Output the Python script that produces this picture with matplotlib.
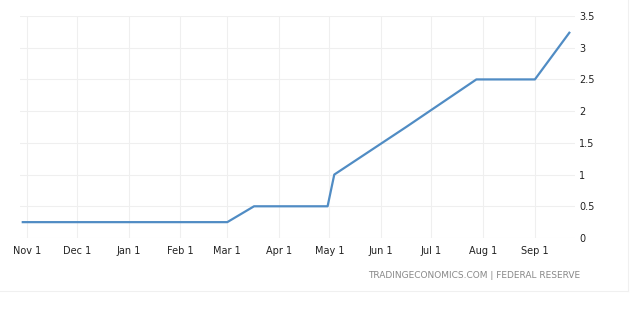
import matplotlib
matplotlib.use("Agg")
import matplotlib.pyplot as plt
import matplotlib.dates as mdates
import numpy as np
from datetime import datetime

# Fed funds rate (upper bound), points at the change dates
dates = ["2021-10-29", "2022-03-01", "2022-03-17", "2022-04-30", "2022-05-04",
         "2022-06-16", "2022-07-28", "2022-09-01", "2022-09-22"]
rates = [0.25, 0.25, 0.5, 0.5, 1.0, 1.75, 2.5, 2.5, 3.25]

tick_dates = ["2021-11-01", "2021-12-01", "2022-01-01", "2022-02-01", "2022-03-01",
              "2022-04-01", "2022-05-01", "2022-06-01", "2022-07-01", "2022-08-01",
              "2022-09-01"]
tick_labels = ["Nov 1", "Dec 1", "Jan 1", "Feb 1", "Mar 1", "Apr 1",
               "May 1", "Jun 1", "Jul 1", "Aug 1", "Sep 1"]
y_ticks = [0, 0.5, 1, 1.5, 2, 2.5, 3, 3.5]
y_labels = ["0", "0.5", "1", "1.5", "2", "2.5", "3", "3.5"]

x = [datetime.strptime(d, "%Y-%m-%d") for d in dates]
xt = [datetime.strptime(d, "%Y-%m-%d") for d in tick_dates]

fig = plt.figure(figsize=(6.4, 3.24), dpi=100)
ax = fig.add_axes([20 / 640, (324 - 238) / 324, 555 / 640, 222 / 324])

ax.plot(x, rates, color="#508cc4", lw=1.6, solid_capstyle="butt")

ax.set_xlim(datetime(2021, 10, 28), datetime(2022, 9, 25))
ax.set_ylim(0, 3.5)
ax.set_xticks(xt)
ax.set_xticklabels(tick_labels)
ax.set_yticks(y_ticks)
ax.set_yticklabels(y_labels)
ax.yaxis.tick_right()

ax.grid(True, color="#efefef", lw=0.8)
for s in ax.spines.values():
    s.set_visible(False)
ax.tick_params(axis="both", length=0, labelsize=7, colors="#222222")
ax.tick_params(axis="x", pad=6)
ax.tick_params(axis="y", pad=3)

fig.text(580 / 640, 1 - 275 / 324, "TRADINGECONOMICS.COM | FEDERAL RESERVE",
         ha="right", va="center", fontsize=6.5, color="#888888")

# faint frame lines of the widget
fig.add_artist(plt.Line2D([0, 628 / 640], [1 - 291 / 324] * 2,
                          transform=fig.transFigure, color="#f0f0f0", lw=0.8))
fig.add_artist(plt.Line2D([628 / 640] * 2, [1 - 291 / 324, 1],
                          transform=fig.transFigure, color="#f0f0f0", lw=0.8))

fig.savefig("out.png", dpi=100)
